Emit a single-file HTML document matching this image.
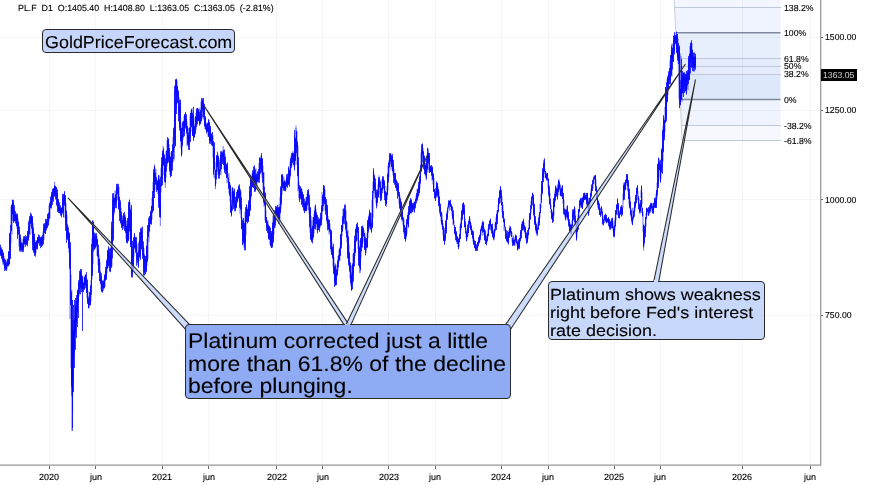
<!DOCTYPE html>
<html><head><meta charset="utf-8">
<style>
html,body{margin:0;padding:0;background:#fff;}
body{text-rendering:geometricPrecision;width:875px;height:484px;overflow:hidden;position:relative;font-family:"Liberation Sans",sans-serif;color:#000;}
svg{position:absolute;left:0;top:0;}
.t{position:absolute;white-space:nowrap;line-height:1;will-change:transform;}
.ax{font-size:8.7px;color:#000;-webkit-text-stroke:0.12px #000;}
.box{position:absolute;box-sizing:border-box;border:1px solid #2a2a2a;border-radius:4px;}
</style></head><body>
<svg width="875" height="484" viewBox="0 0 875 484">
<!-- fib zones -->
<g>
<polygon points="674.2,0 780.5,0 780.5,7.5 674.7,7.5" fill="#f3f6fe"/>
<polygon points="674.7,7.5 780.5,7.5 780.5,32.7 675.8,32.7" fill="#eef3fd"/>
<polygon points="675.8,32.7 780.5,32.7 780.5,58.3 677.5,58.3" fill="#e7eefc"/>
<polygon points="677.5,58.3 780.5,58.3 780.5,66.2 678,66.2" fill="#e4ecfc"/>
<polygon points="678,66.2 780.5,66.2 780.5,74.2 678.6,74.2" fill="#e4ecfc"/>
<polygon points="678.6,74.2 780.5,74.2 780.5,99.6 680.3,99.6" fill="#dee8fb"/>
<polygon points="680.3,99.6 780.5,99.6 780.5,125.3 681.4,125.3" fill="#eef3fd"/>
<polygon points="681.4,125.3 780.5,125.3 780.5,140.5 682,140.5" fill="#f6f8fe"/>
<path d="M674.2 0L675.8 32.7L680.3 99.6L682 140.5" fill="none" stroke="#c8cfdd" stroke-width="1"/>
<g shape-rendering="crispEdges">
<path d="M674.7 7.5H780.5M677.5 58.5H780.5M678 66.5H780.5M678.6 74.5H780.5M681.4 125.5H780.5M682 140.5H780.5" stroke="#bfc7da" stroke-width="1.1"/>
<path d="M675.8 32.7H780.5M680.3 99.6H780.5" stroke="#7f889c" stroke-width="1.5" shape-rendering="auto"/>
</g>
</g>
<!-- grid -->
<g stroke="#f5f5f5" stroke-width="1" shape-rendering="crispEdges" style="mix-blend-mode:multiply">
<path d="M49.5 0V465M95.5 0V465M162.5 0V465M208.5 0V465M276.5 0V465M322.5 0V465M388.5 0V465M435.5 0V465M501.5 0V465M548.5 0V465M614.5 0V465M660.5 0V465M742.5 0V465M810.5 0V465"/>
<path d="M0 37.5H820M0 110.5H820M0 199.5H820M0 315.5H820"/>
</g>
<!-- axes -->
<path d="M0 465.1H821.4M820.7 0V465.8" stroke="#989898" stroke-width="1.25" fill="none"/>
<g stroke="#6a6a6a" stroke-width="1" shape-rendering="crispEdges">
<path d="M821 37.5H823M821 110.5H823M821 199.5H823M821 315.5H823"/>
<path d="M49.5 466V469M95.5 466V469M162.5 466V469M208.5 466V469M276.5 466V469M322.5 466V469M388.5 466V469M435.5 466V469M501.5 466V469M548.5 466V469M614.5 466V469M660.5 466V469M742.5 466V469M810.5 466V469"/>
</g>
<!-- price -->
<path d="M0.0 247.2V254.0M0.5 248.6V254.3M1.0 250.1V256.0M1.5 249.9V256.3M2.0 249.6V258.6M2.5 251.2V259.8M3.0 251.7V265.1M3.5 253.6V262.3M4.0 256.0V265.4M4.5 259.4V268.3M5.0 261.8V266.8M5.5 262.6V267.9M6.0 264.6V268.9M6.5 264.3V269.3M7.0 262.8V269.3M7.5 260.5V265.8M8.0 258.2V265.4M8.5 251.8V265.2M9.0 251.5V264.1M9.5 235.1V264.1M10.0 237.9V250.3M10.5 232.0V257.3M11.0 206.5V243.4M11.5 205.2V229.9M12.0 203.9V234.4M12.5 202.5V213.6M13.0 203.5V215.8M13.5 202.8V220.4M14.0 210.6V221.0M14.5 210.0V220.6M15.0 214.3V220.8M15.5 214.3V221.0M16.0 213.7V220.2M16.5 215.0V225.5M17.0 216.0V228.8M17.5 215.4V234.9M18.0 217.8V231.9M18.5 222.1V233.8M19.0 231.7V246.9M19.5 230.2V244.6M20.0 238.4V247.3M20.5 236.6V248.8M21.0 238.8V249.7M21.5 244.8V249.7M22.0 243.3V249.7M22.5 244.9V249.7M23.0 239.1V248.6M23.5 238.8V249.7M24.0 239.0V247.6M24.5 237.7V243.9M25.0 237.7V244.3M25.5 238.5V244.1M26.0 238.5V243.3M26.5 240.1V243.8M27.0 236.7V243.3M27.5 232.8V243.8M28.0 230.8V238.1M28.5 226.6V240.0M29.0 219.9V237.6M29.5 218.9V233.4M30.0 220.8V234.9M30.5 215.8V223.4M31.0 216.0V227.1M31.5 215.1V222.6M32.0 218.9V233.5M32.5 217.2V244.8M33.0 223.0V239.0M33.5 229.1V251.2M34.0 237.7V250.4M34.5 236.4V252.4M35.0 241.5V254.2M35.5 242.9V253.9M36.0 244.3V253.2M36.5 240.7V247.8M37.0 240.5V248.9M37.5 239.4V247.2M38.0 238.4V245.1M38.5 237.4V242.3M39.0 236.9V241.5M39.5 236.9V242.5M40.0 236.9V242.0M40.5 237.7V244.8M41.0 236.9V244.9M41.5 236.9V245.3M42.0 240.1V245.6M42.5 237.3V244.7M43.0 231.4V244.0M43.5 227.4V239.2M44.0 231.8V239.8M44.5 225.1V232.6M45.0 224.8V229.6M45.5 222.8V233.7M46.0 222.1V230.2M46.5 221.4V227.9M47.0 221.2V225.0M47.5 215.5V226.5M48.0 219.4V226.0M48.5 214.0V223.1M49.0 205.2V221.3M49.5 204.0V216.5M50.0 201.6V218.4M50.5 201.5V206.9M51.0 197.1V209.2M51.5 194.5V206.1M52.0 194.2V199.5M52.5 190.7V200.8M53.0 189.3V197.0M53.5 188.4V198.2M54.0 188.2V194.2M54.5 186.4V194.1M55.0 185.9V193.6M55.5 186.9V197.5M56.0 187.0V194.7M56.5 187.9V199.2M57.0 193.8V206.1M57.5 193.2V206.8M58.0 199.9V210.9M58.5 201.3V211.7M59.0 203.9V211.3M59.5 208.9V212.8M60.0 207.6V213.3M60.5 207.8V212.1M61.0 207.3V214.0M61.5 209.6V214.9M62.0 207.1V214.9M62.5 198.9V211.5M63.0 195.5V209.7M63.5 196.1V213.1M64.0 194.4V201.3M64.5 193.9V200.1M65.0 196.5V218.1M65.5 196.3V225.3M66.0 203.1V221.7M66.5 212.5V238.5M67.0 215.1V235.4M67.5 226.8V238.3M68.0 225.8V240.3M68.5 232.4V245.7M69.0 233.1V252.8M69.5 235.0V266.0M70.0 245.4V319.0M70.5 250.1V299.6M71.0 274.7V368.3M71.5 296.5V384.8M72.0 345.4V396.9M72.5 336.8V395.7M73.0 349.3V389.8M73.5 332.7V357.0M74.0 329.0V348.0M74.5 322.0V346.1M75.0 320.8V337.3M75.5 305.6V326.5M76.0 309.4V321.7M76.5 305.0V321.7M77.0 298.4V313.1M77.5 294.0V311.8M78.0 289.1V303.0M78.5 283.1V300.5M79.0 282.6V296.6M79.5 277.6V288.7M80.0 273.1V283.9M80.5 271.5V287.6M81.0 271.5V284.3M81.5 275.2V289.6M82.0 278.6V287.6M82.5 278.7V289.5M83.0 281.1V289.6M83.5 283.7V289.1M84.0 276.5V289.0M84.5 278.2V289.4M85.0 274.9V285.5M85.5 274.6V282.6M86.0 279.4V288.4M86.5 277.5V292.4M87.0 278.8V298.3M87.5 284.2V301.3M88.0 290.4V304.0M88.5 300.5V308.2M89.0 303.0V308.2M89.5 298.1V305.0M90.0 291.6V306.1M90.5 286.3V303.4M91.0 280.2V301.2M91.5 248.8V288.2M92.0 238.2V279.7M92.5 226.1V273.4M93.0 220.0V264.1M93.5 222.2V246.2M94.0 232.8V246.8M94.5 237.9V249.5M95.0 233.8V247.8M95.5 236.2V246.8M96.0 236.2V245.4M96.5 235.6V243.4M97.0 236.6V255.8M97.5 239.6V255.6M98.0 249.2V265.1M98.5 249.8V267.4M99.0 254.2V272.3M99.5 258.9V275.9M100.0 261.9V281.1M100.5 276.7V283.6M101.0 279.6V289.6M101.5 276.2V290.9M102.0 280.1V288.2M102.5 283.8V290.9M103.0 284.6V290.9M103.5 281.3V288.2M104.0 278.7V287.2M104.5 275.8V287.0M105.0 273.6V286.9M105.5 270.1V280.2M106.0 269.9V279.7M106.5 262.6V277.0M107.0 258.9V273.2M107.5 251.2V268.4M108.0 253.3V267.4M108.5 249.1V264.5M109.0 249.1V268.2M109.5 253.4V265.5M110.0 256.0V266.3M110.5 249.5V270.2M111.0 250.5V265.1M111.5 226.6V267.6M112.0 229.4V266.5M112.5 199.8V250.9M113.0 207.0V219.8M113.5 195.9V238.3M114.0 197.4V214.7M114.5 198.9V209.9M115.0 190.6V205.5M115.5 194.9V203.5M116.0 190.4V198.4M116.5 187.9V203.2M117.0 186.5V199.6M117.5 186.5V192.8M118.0 186.5V200.8M118.5 190.3V207.2M119.0 186.9V209.2M119.5 198.2V212.6M120.0 207.1V216.1M120.5 202.8V222.4M121.0 207.9V224.4M121.5 214.6V227.2M122.0 215.3V226.5M122.5 220.3V227.5M123.0 216.7V227.5M123.5 214.9V226.0M124.0 217.7V224.8M124.5 215.5V223.4M125.0 214.5V231.3M125.5 218.5V231.0M126.0 220.3V238.6M126.5 228.9V242.4M127.0 224.5V242.6M127.5 224.9V241.5M128.0 220.2V240.1M128.5 203.9V240.1M129.0 214.9V230.6M129.5 202.3V227.6M130.0 202.3V238.7M130.5 210.1V245.0M131.0 206.7V244.2M131.5 211.8V273.5M132.0 252.4V274.8M132.5 246.6V272.5M133.0 250.9V261.6M133.5 242.2V269.5M134.0 238.3V256.5M134.5 235.7V247.3M135.0 237.8V248.4M135.5 239.0V249.2M136.0 238.5V250.2M136.5 242.0V259.4M137.0 244.5V252.8M137.5 253.1V260.9M138.0 255.8V265.1M138.5 256.4V265.1M139.0 241.2V261.1M139.5 240.9V256.4M140.0 236.6V257.6M140.5 231.9V254.5M141.0 229.4V236.8M141.5 230.3V245.1M142.0 238.9V248.2M142.5 229.9V256.1M143.0 247.6V255.2M143.5 246.5V271.5M144.0 248.4V265.7M144.5 255.8V271.8M145.0 266.4V272.8M145.5 258.9V270.1M146.0 259.4V271.3M146.5 245.9V269.2M147.0 238.4V265.8M147.5 230.3V260.8M148.0 226.8V259.1M148.5 222.6V235.2M149.0 225.1V242.1M149.5 217.3V231.3M150.0 218.3V227.0M150.5 212.7V223.7M151.0 211.9V224.0M151.5 206.1V221.4M152.0 197.7V219.4M152.5 197.4V212.6M153.0 182.2V208.0M153.5 172.3V209.5M154.0 172.4V191.9M154.5 166.5V192.2M155.0 167.6V190.0M155.5 173.4V182.1M156.0 169.1V183.4M156.5 179.7V185.3M157.0 178.4V189.6M157.5 182.3V189.9M158.0 180.7V190.1M158.5 175.9V201.7M159.0 175.9V192.0M159.5 179.7V211.7M160.0 192.6V212.4M160.5 183.6V216.7M161.0 167.6V192.3M161.5 164.5V185.7M162.0 158.1V184.0M162.5 153.6V179.0M163.0 150.0V165.6M163.5 151.6V164.8M164.0 155.8V175.5M164.5 156.1V177.1M165.0 165.1V182.4M165.5 165.7V182.0M166.0 151.0V177.8M166.5 154.1V165.5M167.0 140.4V166.6M167.5 140.1V162.6M168.0 140.0V153.1M168.5 139.2V159.4M169.0 143.9V162.4M169.5 154.2V168.9M170.0 152.4V174.7M170.5 156.9V174.7M171.0 164.7V174.7M171.5 151.3V171.2M172.0 153.6V165.8M172.5 148.7V163.1M173.0 137.1V162.1M173.5 129.4V151.7M174.0 142.6V160.6M174.5 90.3V143.4M175.0 98.9V140.2M175.5 85.3V145.9M176.0 79.4V92.2M176.5 80.4V108.4M177.0 80.4V103.0M177.5 86.8V96.5M178.0 91.9V103.7M178.5 91.3V114.4M179.0 96.9V110.5M179.5 105.3V127.4M180.0 108.1V127.5M180.5 102.1V140.8M181.0 122.5V148.6M181.5 128.6V153.9M182.0 146.2V153.7M182.5 127.7V144.2M183.0 120.8V139.8M183.5 121.7V131.3M184.0 116.1V130.8M184.5 114.6V132.5M185.0 114.6V119.8M185.5 114.6V126.4M186.0 118.4V129.6M186.5 119.2V130.8M187.0 121.5V146.2M187.5 126.2V142.8M188.0 135.6V145.4M188.5 135.4V147.2M189.0 132.7V142.5M189.5 128.4V145.3M190.0 115.5V141.8M190.5 113.7V134.3M191.0 110.5V131.5M191.5 110.3V126.2M192.0 107.9V124.1M192.5 115.5V135.9M193.0 119.3V134.1M193.5 114.4V138.2M194.0 124.4V137.3M194.5 126.9V136.7M195.0 117.2V132.0M195.5 117.0V129.1M196.0 112.8V130.2M196.5 109.7V124.8M197.0 111.7V125.5M197.5 109.0V119.7M198.0 109.0V121.3M198.5 111.9V120.5M199.0 109.0V119.4M199.5 114.6V124.1M200.0 116.1V124.1M200.5 112.5V122.8M201.0 101.4V121.1M201.5 102.9V118.8M202.0 100.7V111.9M202.5 100.7V108.0M203.0 100.7V119.4M203.5 102.5V116.3M204.0 107.7V119.5M204.5 106.6V124.6M205.0 117.1V129.3M205.5 117.5V127.1M206.0 122.5V129.5M206.5 126.4V131.7M207.0 123.4V131.7M207.5 123.2V130.7M208.0 122.1V136.8M208.5 119.5V136.3M209.0 119.5V125.8M209.5 123.3V141.1M210.0 132.1V141.1M210.5 128.7V141.0M211.0 134.7V141.6M211.5 134.7V140.4M212.0 136.5V146.2M212.5 136.4V145.6M213.0 135.2V157.9M213.5 144.5V173.6M214.0 151.8V177.7M214.5 148.0V167.9M215.0 161.7V178.7M215.5 169.9V184.9M216.0 169.9V183.6M216.5 155.7V172.0M217.0 156.5V174.9M217.5 154.4V165.7M218.0 154.5V163.6M218.5 158.4V173.6M219.0 158.0V175.1M219.5 171.1V176.0M220.0 160.0V174.7M220.5 155.1V167.2M221.0 155.7V175.2M221.5 151.8V166.2M222.0 152.9V159.1M222.5 153.7V161.4M223.0 150.2V157.7M223.5 151.7V163.3M224.0 152.6V168.9M224.5 156.4V170.1M225.0 154.0V170.2M225.5 161.2V171.1M226.0 166.0V171.5M226.5 164.8V177.2M227.0 165.9V183.2M227.5 164.8V176.5M228.0 173.5V182.7M228.5 180.3V186.8M229.0 173.3V193.4M229.5 182.1V194.5M230.0 183.2V201.2M230.5 185.7V210.2M231.0 187.7V212.5M231.5 207.0V213.8M232.0 191.8V211.3M232.5 187.8V204.2M233.0 187.8V198.8M233.5 191.3V201.7M234.0 190.5V206.9M234.5 192.8V206.8M235.0 201.2V208.3M235.5 203.8V208.6M236.0 202.3V208.6M236.5 196.6V206.6M237.0 193.5V201.0M237.5 190.1V200.7M238.0 190.2V200.8M238.5 188.3V197.6M239.0 187.1V198.9M239.5 187.0V201.9M240.0 191.1V213.5M240.5 192.6V208.1M241.0 191.5V218.4M241.5 204.1V228.6M242.0 217.2V230.0M242.5 221.6V242.6M243.0 222.9V240.1M243.5 221.3V241.1M244.0 225.3V247.6M244.5 223.1V245.8M245.0 212.0V244.0M245.5 215.3V242.3M246.0 210.0V235.3M246.5 207.1V221.9M247.0 207.1V217.4M247.5 209.6V220.7M248.0 214.0V220.8M248.5 202.9V220.8M249.0 207.6V217.2M249.5 190.6V215.4M250.0 194.0V208.6M250.5 179.3V209.7M251.0 186.1V198.5M251.5 180.3V188.9M252.0 173.2V180.7M252.5 174.8V187.0M253.0 170.2V186.0M253.5 171.7V184.0M254.0 171.5V186.5M254.5 166.7V188.9M255.0 173.4V185.5M255.5 176.0V190.5M256.0 168.3V188.7M256.5 174.1V182.1M257.0 176.2V189.6M257.5 174.1V181.6M258.0 171.9V180.0M258.5 171.3V179.3M259.0 162.9V179.9M259.5 157.8V178.7M260.0 158.4V174.7M260.5 158.6V168.7M261.0 155.8V159.9M261.5 155.8V169.9M262.0 157.7V177.9M262.5 158.8V174.5M263.0 165.7V189.6M263.5 173.1V200.6M264.0 172.4V206.7M264.5 192.6V204.5M265.0 195.2V220.4M265.5 195.2V222.3M266.0 210.1V221.0M266.5 217.7V227.0M267.0 219.7V226.8M267.5 223.4V230.5M268.0 220.5V230.4M268.5 225.7V238.6M269.0 225.9V238.5M269.5 227.5V238.5M270.0 231.0V244.8M270.5 232.4V244.8M271.0 239.7V247.7M271.5 233.0V247.7M272.0 233.3V245.7M272.5 225.3V245.6M273.0 215.6V242.7M273.5 220.2V239.0M274.0 219.3V234.5M274.5 211.5V225.4M275.0 210.3V228.0M275.5 210.7V220.8M276.0 207.6V217.6M276.5 208.3V214.0M277.0 207.3V212.7M277.5 207.6V215.4M278.0 210.4V220.1M278.5 214.2V220.9M279.0 204.1V219.6M279.5 207.1V220.2M280.0 197.1V220.1M280.5 190.7V212.0M281.0 187.1V209.1M281.5 175.2V202.4M282.0 175.7V195.0M282.5 174.6V182.2M283.0 175.8V191.1M283.5 181.9V187.8M284.0 177.3V186.6M284.5 181.5V189.6M285.0 183.3V190.3M285.5 183.3V190.3M286.0 179.9V190.3M286.5 177.9V184.8M287.0 177.1V186.9M287.5 176.3V185.0M288.0 179.0V185.4M288.5 167.9V184.2M289.0 168.4V179.5M289.5 170.0V183.3M290.0 161.5V179.7M290.5 160.6V175.1M291.0 155.8V168.6M291.5 157.8V165.0M292.0 154.8V165.6M292.5 154.1V159.2M293.0 154.1V160.6M293.5 154.4V162.8M294.0 152.6V167.0M294.5 135.7V167.8M295.0 138.3V164.9M295.5 138.4V159.7M296.0 125.6V146.8M296.5 132.3V147.2M297.0 130.6V164.9M297.5 144.3V175.3M298.0 145.6V191.5M298.5 162.5V186.6M299.0 182.2V198.1M299.5 186.3V199.5M300.0 190.2V198.2M300.5 189.4V195.6M301.0 188.9V199.2M301.5 188.9V199.9M302.0 189.1V203.9M302.5 192.7V204.3M303.0 194.4V207.3M303.5 196.3V206.1M304.0 203.6V210.0M304.5 202.9V211.1M305.0 203.7V211.1M305.5 204.1V211.1M306.0 196.9V210.3M306.5 198.5V209.1M307.0 194.2V209.8M307.5 192.8V199.9M308.0 191.9V197.8M308.5 191.9V198.2M309.0 196.9V213.6M309.5 202.8V221.4M310.0 209.2V232.9M310.5 208.2V239.4M311.0 215.9V238.1M311.5 232.8V240.8M312.0 235.4V240.7M312.5 227.5V239.7M313.0 217.3V239.6M313.5 217.9V237.3M314.0 214.0V233.8M314.5 210.9V227.7M315.0 207.1V222.5M315.5 207.1V224.2M316.0 208.8V227.0M316.5 213.4V223.6M317.0 215.9V230.5M317.5 220.4V230.5M318.0 220.4V228.0M318.5 220.0V227.2M319.0 219.3V229.8M319.5 221.5V227.8M320.0 217.5V228.3M320.5 217.5V225.2M321.0 214.7V221.7M321.5 207.8V223.8M322.0 192.0V219.9M322.5 196.7V210.8M323.0 193.9V211.1M323.5 187.6V201.0M324.0 188.5V197.4M324.5 188.4V202.5M325.0 189.6V210.7M325.5 197.5V209.9M326.0 201.6V210.3M326.5 204.8V219.6M327.0 210.0V223.7M327.5 207.3V223.9M328.0 216.0V227.0M328.5 219.5V229.5M329.0 220.2V234.4M329.5 222.7V230.9M330.0 223.9V233.9M330.5 231.6V242.6M331.0 230.6V252.1M331.5 231.5V254.0M332.0 242.3V252.0M332.5 247.4V258.1M333.0 250.9V266.6M333.5 247.8V269.5M334.0 257.5V272.6M334.5 267.0V281.9M335.0 263.1V281.6M335.5 268.4V285.0M336.0 272.4V285.0M336.5 269.6V280.0M337.0 264.7V275.7M337.5 262.5V274.8M338.0 256.0V270.7M338.5 257.5V263.9M339.0 249.6V261.6M339.5 249.1V258.6M340.0 246.4V260.7M340.5 234.7V254.8M341.0 238.4V246.9M341.5 225.8V245.1M342.0 224.9V236.3M342.5 218.2V231.3M343.0 208.5V228.4M343.5 213.0V221.3M344.0 208.7V223.4M344.5 206.9V216.6M345.0 210.4V224.9M345.5 210.8V227.8M346.0 210.1V232.9M346.5 222.6V236.3M347.0 222.2V242.7M347.5 235.9V254.1M348.0 230.0V257.1M348.5 237.6V261.3M349.0 244.4V263.8M349.5 253.7V269.7M350.0 262.2V278.4M350.5 265.0V279.2M351.0 272.4V286.2M351.5 276.1V289.6M352.0 272.5V289.1M352.5 264.7V283.1M353.0 253.8V278.2M353.5 255.3V274.6M354.0 248.8V266.6M354.5 240.5V259.7M355.0 240.9V256.1M355.5 229.0V252.5M356.0 226.9V242.6M356.5 229.4V240.0M357.0 224.4V230.9M357.5 226.2V232.3M358.0 227.1V249.2M358.5 231.4V260.1M359.0 240.2V255.9M359.5 247.5V266.9M360.0 255.8V272.8M360.5 240.2V268.1M361.0 238.4V258.2M361.5 230.0V247.2M362.0 227.4V244.3M362.5 228.1V243.6M363.0 227.4V231.4M363.5 230.1V236.2M364.0 230.0V241.5M364.5 236.7V247.7M365.0 234.1V249.3M365.5 238.9V253.1M366.0 246.2V253.2M366.5 239.9V246.6M367.0 233.2V248.2M367.5 220.3V247.3M368.0 223.0V238.0M368.5 218.3V228.1M369.0 214.1V230.1M369.5 211.5V225.1M370.0 212.2V223.4M370.5 214.5V228.8M371.0 219.8V226.3M371.5 222.9V231.8M372.0 199.8V226.3M372.5 196.1V226.7M373.0 182.5V217.6M373.5 170.5V187.4M374.0 173.5V198.8M374.5 177.1V189.2M375.0 184.7V194.5M375.5 183.2V197.6M376.0 195.2V203.2M376.5 191.8V205.4M377.0 199.9V206.3M377.5 191.7V201.9M378.0 184.3V194.1M378.5 179.4V195.8M379.0 179.4V185.3M379.5 180.5V187.1M380.0 186.7V193.9M380.5 185.3V197.2M381.0 191.9V199.0M381.5 188.1V198.2M382.0 179.5V193.8M382.5 178.6V187.1M383.0 178.4V184.3M383.5 178.8V185.8M384.0 179.8V189.5M384.5 182.7V193.6M385.0 185.9V195.9M385.5 191.5V203.4M386.0 191.8V203.3M386.5 193.9V203.9M387.0 186.1V199.9M387.5 175.0V194.5M388.0 165.9V190.3M388.5 162.6V180.4M389.0 160.4V176.9M389.5 156.3V165.4M390.0 153.8V165.0M390.5 153.6V161.1M391.0 153.2V163.4M391.5 157.4V166.8M392.0 157.7V164.5M392.5 156.9V170.9M393.0 163.2V175.3M393.5 163.9V176.7M394.0 168.7V175.2M394.5 174.3V182.5M395.0 172.8V183.4M395.5 175.4V182.7M396.0 181.2V186.5M396.5 180.8V188.1M397.0 183.4V189.4M397.5 184.0V193.8M398.0 185.8V193.7M398.5 185.5V194.6M399.0 193.8V203.4M399.5 194.0V207.1M400.0 196.2V203.9M400.5 200.4V214.3M401.0 202.8V213.2M401.5 203.7V217.3M402.0 211.6V221.6M402.5 211.5V219.9M403.0 217.9V225.4M403.5 220.5V227.4M404.0 219.4V234.4M404.5 226.6V233.5M405.0 233.5V238.5M405.5 230.6V240.2M406.0 225.8V239.6M406.5 221.5V235.9M407.0 219.1V233.5M407.5 216.8V223.4M408.0 212.4V227.2M408.5 211.7V225.7M409.0 209.3V219.7M409.5 202.9V214.4M410.0 201.7V214.2M410.5 200.1V212.4M411.0 199.7V202.4M411.5 202.1V211.5M412.0 202.9V207.9M412.5 205.5V212.0M413.0 205.8V212.0M413.5 204.9V209.4M414.0 201.5V209.6M414.5 202.6V210.6M415.0 200.7V206.1M415.5 199.4V205.3M416.0 195.5V200.9M416.5 195.0V200.2M417.0 189.4V200.9M417.5 193.2V198.4M418.0 189.7V197.8M418.5 185.6V193.4M419.0 184.5V195.2M419.5 178.5V192.4M420.0 174.7V188.4M420.5 170.4V181.7M421.0 152.6V171.4M421.5 150.1V170.9M422.0 149.9V165.0M422.5 145.3V152.8M423.0 147.8V157.8M423.5 152.1V165.4M424.0 155.7V165.3M424.5 158.0V170.8M425.0 159.9V173.1M425.5 165.9V175.2M426.0 163.1V177.2M426.5 163.5V175.8M427.0 154.9V172.3M427.5 152.5V168.4M428.0 148.8V162.5M428.5 153.0V160.2M429.0 158.1V169.7M429.5 154.7V170.6M430.0 167.3V171.9M430.5 166.2V171.5M431.0 167.0V170.4M431.5 166.7V173.6M432.0 166.8V180.7M432.5 167.9V178.4M433.0 174.2V184.5M433.5 174.4V191.6M434.0 178.2V190.5M434.5 190.2V195.4M435.0 191.2V197.9M435.5 193.3V199.5M436.0 190.0V197.4M436.5 185.2V192.9M437.0 183.0V194.1M437.5 184.1V195.1M438.0 186.5V195.3M438.5 190.0V203.7M439.0 191.4V204.6M439.5 196.7V208.3M440.0 205.2V214.9M440.5 207.4V216.2M441.0 213.7V221.7M441.5 213.0V223.4M442.0 213.3V226.4M442.5 222.3V228.3M443.0 223.5V235.1M443.5 227.4V239.8M444.0 230.1V240.3M444.5 238.2V243.8M445.0 230.9V238.8M445.5 223.8V238.3M446.0 219.6V231.6M446.5 214.4V229.5M447.0 211.0V219.7M447.5 209.9V217.3M448.0 204.8V213.0M448.5 202.6V206.6M449.0 202.5V208.8M449.5 201.6V204.5M450.0 201.1V204.0M450.5 202.2V206.1M451.0 203.7V210.0M451.5 205.6V210.1M452.0 207.1V215.7M452.5 210.3V217.8M453.0 212.7V225.3M453.5 214.7V222.6M454.0 220.6V225.4M454.5 226.5V233.5M455.0 227.4V235.2M455.5 228.7V236.2M456.0 232.6V236.9M456.5 232.5V241.4M457.0 236.4V243.9M457.5 237.1V242.8M458.0 241.8V247.0M458.5 240.6V247.7M459.0 238.1V246.9M459.5 235.0V242.1M460.0 225.6V237.9M460.5 223.9V234.5M461.0 217.5V230.4M461.5 211.9V223.8M462.0 209.8V220.9M462.5 207.2V217.8M463.0 205.2V212.3M463.5 203.6V213.9M464.0 209.5V213.6M464.5 209.1V226.9M465.0 218.3V226.9M465.5 224.5V230.3M466.0 228.1V237.4M466.5 237.1V241.0M467.0 234.1V239.4M467.5 228.5V237.0M468.0 229.7V236.3M468.5 224.2V232.7M469.0 219.3V223.8M469.5 217.3V223.5M470.0 218.7V224.9M470.5 222.0V229.0M471.0 223.2V231.2M471.5 226.7V233.8M472.0 229.1V233.6M472.5 230.5V237.2M473.0 231.9V241.9M473.5 234.8V243.8M474.0 238.2V243.8M474.5 242.6V246.9M475.0 241.3V248.5M475.5 243.8V249.7M476.0 245.5V249.2M476.5 246.4V249.4M477.0 244.0V247.9M477.5 243.3V247.8M478.0 241.7V247.4M478.5 240.5V245.4M479.0 239.1V243.0M479.5 235.6V241.6M480.0 233.9V241.5M480.5 229.7V237.2M481.0 227.3V235.4M481.5 225.9V230.2M482.0 223.1V229.1M482.5 223.2V228.8M483.0 222.4V225.0M483.5 223.5V230.6M484.0 227.0V234.6M484.5 230.1V239.6M485.0 232.5V240.2M485.5 234.8V240.9M486.0 240.2V244.1M486.5 239.4V244.0M487.0 236.3V241.7M487.5 233.9V239.8M488.0 228.5V237.5M488.5 228.4V235.7M489.0 224.2V229.5M489.5 222.9V227.4M490.0 219.8V226.8M490.5 219.2V225.1M491.0 224.1V228.9M491.5 224.9V229.6M492.0 224.8V233.1M492.5 227.1V235.9M493.0 229.5V236.4M493.5 236.1V239.1M494.0 230.5V239.8M494.5 230.1V236.7M495.0 224.0V232.8M495.5 222.4V228.2M496.0 217.3V227.3M496.5 215.2V224.9M497.0 210.6V220.5M497.5 210.4V219.1M498.0 205.2V213.2M498.5 199.0V210.5M499.0 198.6V205.6M499.5 190.9V202.6M500.0 189.5V196.5M500.5 187.4V197.2M501.0 192.8V197.2M501.5 195.0V205.2M502.0 196.2V212.2M502.5 206.8V214.9M503.0 204.8V218.4M503.5 212.5V221.5M504.0 218.5V230.6M504.5 220.5V226.9M505.0 226.3V231.5M505.5 228.5V238.4M506.0 232.5V239.5M506.5 234.0V240.2M507.0 237.3V242.4M507.5 235.6V241.8M508.0 236.1V243.2M508.5 232.4V242.0M509.0 230.0V235.4M509.5 228.2V236.5M510.0 228.4V234.8M510.5 227.7V232.7M511.0 228.0V236.4M511.5 232.1V236.4M512.0 232.3V241.8M512.5 239.2V242.6M513.0 240.5V244.2M513.5 240.3V244.5M514.0 238.2V244.3M514.5 240.2V244.0M515.0 236.8V242.4M515.5 235.8V240.1M516.0 235.8V242.3M516.5 237.8V242.5M517.0 239.3V243.7M517.5 242.2V248.9M518.0 243.8V249.9M518.5 242.0V248.6M519.0 239.4V247.5M519.5 238.1V246.0M520.0 235.1V242.7M520.5 231.4V239.4M521.0 231.9V238.9M521.5 227.3V233.9M522.0 222.0V230.9M522.5 221.5V229.7M523.0 220.9V224.8M523.5 220.4V226.0M524.0 222.6V227.2M524.5 226.7V230.6M525.0 226.5V234.2M525.5 228.8V237.4M526.0 234.4V239.5M526.5 233.7V241.2M527.0 237.6V242.6M527.5 233.9V241.4M528.0 232.4V238.9M528.5 228.9V234.7M529.0 219.9V230.1M529.5 214.9V228.6M530.0 213.2V219.9M530.5 209.1V218.2M531.0 200.7V213.7M531.5 198.0V207.8M532.0 196.1V206.3M532.5 193.2V198.0M533.0 196.4V204.4M533.5 197.8V212.4M534.0 203.9V216.5M534.5 207.7V224.2M535.0 216.5V223.7M535.5 220.1V229.0M536.0 222.4V232.8M536.5 224.3V233.0M537.0 232.9V235.4M537.5 230.2V233.8M538.0 221.6V229.4M538.5 221.7V229.7M539.0 214.9V225.9M539.5 212.2V222.1M540.0 203.3V218.3M540.5 205.6V212.8M541.0 193.6V208.0M541.5 185.0V199.4M542.0 184.5V195.6M542.5 172.6V192.8M543.0 168.6V179.7M543.5 163.7V177.3M544.0 159.7V165.5M544.5 162.0V171.4M545.0 169.1V174.2M545.5 171.3V177.7M546.0 172.5V177.4M546.5 174.1V178.8M547.0 174.0V178.6M547.5 174.7V179.8M548.0 178.7V187.7M548.5 179.5V191.2M549.0 184.7V197.4M549.5 190.8V202.1M550.0 192.9V203.4M550.5 202.3V207.5M551.0 204.8V213.1M551.5 209.4V217.8M552.0 210.0V219.2M552.5 215.1V221.5M553.0 212.7V217.4M553.5 202.1V216.7M554.0 197.8V215.5M554.5 196.9V206.6M555.0 190.8V202.5M555.5 187.4V200.4M556.0 187.5V190.2M556.5 189.4V195.3M557.0 190.0V196.6M557.5 188.8V198.0M558.0 183.6V192.4M558.5 182.9V191.6M559.0 178.9V189.0M559.5 182.4V189.2M560.0 184.0V190.4M560.5 189.7V195.4M561.0 191.4V195.7M561.5 189.3V193.2M562.0 186.9V191.4M562.5 187.7V198.1M563.0 193.8V204.0M563.5 197.9V209.5M564.0 199.6V211.8M564.5 209.8V214.8M565.0 210.1V217.9M565.5 212.6V218.8M566.0 215.0V218.0M566.5 210.3V215.7M567.0 206.8V212.4M567.5 208.1V218.2M568.0 212.5V220.0M568.5 215.5V222.6M569.0 221.9V226.9M569.5 222.3V230.5M570.0 222.4V231.0M570.5 225.8V232.0M571.0 224.3V234.5M571.5 225.5V229.8M572.0 220.1V228.3M572.5 213.6V224.3M573.0 212.2V217.5M573.5 210.8V218.8M574.0 210.5V213.3M574.5 207.6V218.7M575.0 209.9V225.9M575.5 218.6V223.7M576.0 221.3V234.7M576.5 229.7V239.3M577.0 227.7V237.4M577.5 222.3V231.2M578.0 214.7V225.7M578.5 209.3V226.0M579.0 209.2V222.4M579.5 203.7V211.5M580.0 201.5V204.6M580.5 198.8V205.3M581.0 200.4V204.5M581.5 202.0V206.9M582.0 205.2V208.3M582.5 199.0V208.2M583.0 198.0V204.7M583.5 195.1V202.2M584.0 193.0V200.2M584.5 193.0V199.8M585.0 196.3V199.3M585.5 196.3V199.2M586.0 195.5V198.7M586.5 195.0V201.3M587.0 194.7V206.2M587.5 194.3V204.7M588.0 201.8V207.9M588.5 206.1V214.8M589.0 206.4V213.0M589.5 199.4V209.4M590.0 198.5V208.4M590.5 194.2V201.5M591.0 188.6V197.8M591.5 187.5V194.8M592.0 184.6V190.7M592.5 183.4V188.3M593.0 181.0V188.6M593.5 178.3V183.0M594.0 176.1V180.0M594.5 175.8V178.7M595.0 175.8V184.6M595.5 175.8V186.8M596.0 179.4V191.1M596.5 188.0V198.2M597.0 190.2V199.0M597.5 194.9V203.8M598.0 199.7V207.9M598.5 202.1V208.3M599.0 202.5V209.5M599.5 208.2V213.8M600.0 209.1V214.8M600.5 212.5V215.6M601.0 207.4V211.4M601.5 207.4V210.6M602.0 209.1V214.9M602.5 215.1V221.3M603.0 221.6V224.5M603.5 219.6V224.2M604.0 217.9V223.1M604.5 216.0V219.6M605.0 215.3V218.9M605.5 215.1V219.5M606.0 217.9V222.0M606.5 217.4V221.3M607.0 218.2V221.8M607.5 219.2V222.0M608.0 218.2V221.0M608.5 218.2V222.9M609.0 219.5V223.3M609.5 220.8V227.0M610.0 221.4V227.6M610.5 224.3V228.5M611.0 223.1V228.5M611.5 219.9V224.2M612.0 220.7V227.9M612.5 218.8V226.8M613.0 222.7V230.7M613.5 228.5V234.9M614.0 227.1V237.5M614.5 226.3V235.0M615.0 217.8V230.7M615.5 213.0V225.8M616.0 210.0V220.6M616.5 204.8V214.3M617.0 204.3V209.2M617.5 199.7V207.4M618.0 203.4V210.0M618.5 205.0V214.7M619.0 211.1V217.1M619.5 214.5V217.5M620.0 212.2V215.6M620.5 209.0V214.1M621.0 208.1V212.2M621.5 205.9V213.9M622.0 205.5V214.1M622.5 207.5V214.2M623.0 193.6V207.7M623.5 186.1V199.7M624.0 183.7V197.7M624.5 185.6V195.0M625.0 184.3V190.0M625.5 180.8V187.7M626.0 179.4V185.6M626.5 178.2V181.4M627.0 176.1V182.9M627.5 175.3V185.3M628.0 179.9V191.9M628.5 183.0V198.8M629.0 188.5V204.7M629.5 192.2V207.0M630.0 196.6V209.3M630.5 202.4V214.1M631.0 208.9V217.6M631.5 213.9V220.2M632.0 216.9V223.5M632.5 218.6V224.4M633.0 215.8V220.6M633.5 211.0V217.9M634.0 207.3V212.6M634.5 203.2V212.6M635.0 201.3V210.8M635.5 197.9V205.9M636.0 195.0V202.6M636.5 191.0V200.0M637.0 187.0V192.2M637.5 186.5V192.3M638.0 191.2V196.4M638.5 196.8V204.5M639.0 197.7V209.9M639.5 204.5V211.3M640.0 206.2V214.2M640.5 203.2V210.7M641.0 190.2V198.0M641.5 186.5V207.1M642.0 192.5V204.3M642.5 208.0V215.8M643.0 211.8V231.9M643.5 224.9V245.4M644.0 231.1V246.1M644.5 228.8V240.5M645.0 223.3V231.3M645.5 217.3V232.9M646.0 213.4V226.5M646.5 211.7V216.9M647.0 208.7V212.0M647.5 208.8V211.3M648.0 210.7V214.4M648.5 211.3V215.2M649.0 210.8V214.6M649.5 208.0V212.3M650.0 205.6V211.8M650.5 205.1V209.0M651.0 202.9V205.8M651.5 203.6V208.3M652.0 205.9V210.7M652.5 208.3V212.7M653.0 205.5V212.9M653.5 203.9V211.4M654.0 203.2V208.7M654.5 198.6V204.7M655.0 201.6V205.5M655.5 201.3V206.6M656.0 193.7V206.2M656.5 190.4V204.4M657.0 182.5V199.4M657.5 166.0V191.5M658.0 163.5V185.8M658.5 159.2V183.8M659.0 158.4V166.1M659.5 163.4V169.9M660.0 167.8V177.5M660.5 163.6V180.4M661.0 164.9V179.1M661.5 149.7V171.8M662.0 147.4V160.8M662.5 132.1V167.2M663.0 125.7V161.8M663.5 118.0V150.7M664.0 117.5V137.6M664.5 120.5V135.6M665.0 106.8V131.6M665.5 87.4V122.4M666.0 88.4V115.1M666.5 89.8V118.4M667.0 79.3V102.7M667.5 77.3V101.5M668.0 74.9V95.0M668.5 74.9V87.8M669.0 77.3V84.3M669.5 70.6V79.5M670.0 60.3V80.6M670.5 56.2V80.1M671.0 66.1V77.0M671.5 49.2V74.2M672.0 43.3V76.7M672.5 50.4V61.9M673.0 43.7V53.5M673.5 39.6V61.6M674.0 35.5V52.2M674.5 35.5V50.8M675.0 35.5V45.4M675.5 35.5V43.1M676.0 35.5V43.3M676.5 35.8V49.2M677.0 37.6V53.2M677.5 35.8V56.8M678.0 38.5V57.4M678.5 48.6V62.0M679.0 46.9V99.0M679.5 47.6V103.8M680.0 53.0V88.3M680.5 89.4V104.4M681.0 55.8V99.4M681.5 65.6V99.4M682.0 86.9V101.9M682.5 74.9V93.2M683.0 75.6V91.1M683.5 72.7V93.2M684.0 72.7V86.0M684.5 74.0V91.3M685.0 77.6V87.3M685.5 76.7V88.5M686.0 74.8V91.4M686.5 74.3V91.4M687.0 74.3V88.8M687.5 72.2V82.3M688.0 72.5V90.2M688.5 59.0V81.2M689.0 64.2V75.3M689.5 53.9V79.6M690.0 46.2V66.9M690.5 44.9V62.8M691.0 43.1V62.4M691.5 43.9V67.1M692.0 43.1V61.4M692.5 50.6V67.4M693.0 53.8V67.7M693.5 56.5V67.7M694.0 57.4V67.7M694.5 58.6V67.0M695.0 56.3V67.3M695.5 56.3V66.5M5.9 269.5V258.7M12.4 199.6V221.0M14.0 221.0V215.7M16.0 215.7V221.0M21.0 250.6V242.6M31.5 217.0V226.5M35.0 254.7V240.0M37.6 237.0V242.6M40.3 242.6V240.0M54.6 182.0V197.0M61.3 213.0V207.6M64.5 191.5V205.0M67.7 237.2V234.5M69.4 234.5V237.2M72.2 431.0V386.0M80.7 271.0V288.0M82.2 288.0V275.5M85.5 275.5V288.0M88.8 308.0V296.0M93.0 224.0V247.0M94.2 247.0V240.0M96.5 240.0V247.0M103.1 291.0V280.0M108.8 246.4V261.0M110.4 271.0V256.0M113.6 199.0V205.0M115.0 205.0V199.0M123.0 229.0V215.7M125.0 215.7V229.0M126.9 240.0V221.0M129.5 204.0V205.0M131.8 277.0V251.0M134.4 234.5V243.0M138.4 267.0V243.0M141.0 232.0V250.6M145.0 268.0V256.0M154.4 164.4V178.0M157.9 194.0V182.8M158.9 174.8V194.0M160.3 226.0V203.0M163.2 146.0V160.4M165.3 188.0V162.0M168.5 139.6V152.4M170.7 176.4V162.0M173.3 147.6V158.8M174.1 158.8V147.6M176.0 79.6V92.6M181.5 155.5V127.8M184.8 115.3V127.8M188.6 143.0V127.8M191.9 110.2V127.8M193.6 137.9V120.3M197.9 107.7V120.3M199.9 122.8V107.7M202.4 100.2V117.8M206.7 130.3V127.8M209.2 127.8V130.3M209.6 141.2V138.0M212.0 138.0V141.2M215.4 189.0V174.8M217.6 157.2V171.6M219.2 174.8V162.0M223.2 146.0V155.6M225.3 170.0V165.2M226.4 165.2V170.0M231.4 215.3V200.4M232.8 189.2V200.2M235.7 207.7V200.2M239.4 189.4V195.1M244.0 244.2V232.9M246.5 205.2V220.3M248.3 220.3V205.2M252.0 176.0V183.0M253.0 183.0V176.0M254.5 171.0V183.0M255.3 192.0V177.0M256.6 177.0V181.0M257.5 181.0V177.0M261.3 155.5V171.0M271.2 245.4V232.9M276.7 207.7V215.3M278.5 220.3V207.7M282.5 176.0V188.0M284.6 188.0V181.0M287.2 181.0V185.0M288.5 185.0V181.0M292.9 151.0V161.0M294.7 166.0V151.0M296.0 128.0V156.0M299.3 200.0V187.6M301.1 187.6V200.0M305.6 210.2V202.7M308.6 191.0V210.2M311.9 240.4V220.3M315.2 205.2V220.3M319.4 227.8V225.3M323.7 185.5V202.7M335.7 285.0V265.5M344.6 211.0V224.0M351.4 290.0V265.5M357.2 225.3V240.4M359.9 273.0V245.4M362.7 225.3V243.0M366.0 250.5V243.0M369.5 213.0V227.8M371.7 230.3V213.0M373.4 171.5V192.9M377.0 203.0V192.9M379.0 175.3V198.0M380.7 198.0V180.3M382.7 180.3V193.0M386.3 207.0V193.0M391.0 155.1V170.2M405.9 238.1V228.0M410.9 197.9V208.0M412.9 208.0V202.9M422.5 144.6V162.7M426.2 180.3V162.7M428.0 148.9V172.7M430.0 172.7V167.7M432.0 167.7V172.7M435.5 197.9V187.8M436.8 182.8V197.9M444.4 241.9V228.0M449.6 200.4V210.5M458.7 246.9V238.1M463.5 202.9V213.0M466.5 240.6V230.6M469.5 218.0V228.0M475.3 248.2V245.7M482.8 220.5V235.6M486.6 243.2V235.6M490.4 220.5V230.6M493.9 240.6V230.6M500.4 187.8V202.9M508.0 243.2V235.6M509.7 225.5V235.6M513.5 245.7V235.6M516.0 235.6V245.7M518.0 248.2V240.6M523.6 220.5V230.6M527.3 240.6V235.6M532.6 192.9V205.4M537.1 236.0V225.5M543.9 160.2V177.8M545.7 177.8V172.7M547.4 172.7V177.8M552.6 220.5V212.0M555.8 185.3V196.5M557.6 196.5V185.3M558.9 181.0V195.3M560.7 195.3V185.3M562.2 185.3V195.3M565.7 220.5V210.4M567.2 205.4V220.5M571.0 233.0V225.5M574.8 207.9V215.4M576.5 239.3V223.0M580.3 197.8V207.9M582.0 207.9V197.8M584.1 192.8V200.3M585.8 200.3V192.8M587.3 192.8V200.3M588.6 215.4V197.8M595.4 174.7V180.2M600.4 215.4V207.9M601.7 207.9V215.4M602.9 225.5V215.4M604.9 215.4V223.0M606.7 223.0V218.0M608.5 218.0V223.0M610.5 228.0V220.5M612.5 220.5V228.0M614.2 236.8V220.5M617.5 200.3V215.4M619.3 218.0V210.4M621.0 210.4V212.9M622.5 212.9V210.4M623.8 182.7V190.3M625.5 190.3V182.7M627.3 175.2V190.3M632.3 224.2V207.9M637.4 186.5V200.3M640.1 212.9V202.9M641.6 187.8V212.9M643.7 250.6V225.5M646.9 207.9V215.4M648.7 215.4V207.9M650.7 202.9V212.9M652.7 212.9V202.9M654.5 200.3V207.9M655.7 207.9V200.3M659.0 160.1V165.1M660.3 181.5V165.1M671.6 52.0V58.0M672.4 58.0V52.0M676.0 34.6V40.0M680.5 101.5V80.0M681.4 80.0V87.0M682.4 87.0V80.0M683.9 76.0V82.9M686.2 93.4V82.9M691.0 46.0V56.6M693.6 65.4V56.6M695.0 56.6V65.4M72.2 431V300M71.8 395V290M72.6 412V320" stroke="#0000ff" stroke-width="0.7" fill="none" opacity="0.8"/>
<path d="M0.5 244.7V255.7M1.5 247.4V258.6M2.5 249.5V261.7M3.5 252.8V263.7M4.5 258.5V270.9M5.5 260.0V270.4M6.5 261.7V271.0M7.5 259.1V266.7M8.5 251.2V266.3M9.5 232.8V264.6M10.5 225.0V259.0M11.5 205.0V231.2M12.5 199.9V214.3M13.5 199.9V223.1M14.5 205.2V221.6M15.5 211.2V223.6M16.5 213.4V226.2M17.5 213.8V238.8M18.5 221.5V234.6M19.5 226.5V251.3M20.5 234.6V251.6M21.5 242.3V251.7M22.5 242.7V252.3M23.5 236.3V251.8M24.5 236.1V244.5M25.5 235.2V246.7M26.5 236.2V245.2M27.5 231.0V246.3M28.5 221.8V240.7M29.5 216.1V234.2M30.5 212.6V223.9M31.5 213.9V228.7M32.5 216.0V250.3M33.5 227.3V252.7M34.5 233.6V255.9M35.5 242.2V256.7M36.5 240.6V249.2M37.5 237.1V249.4M38.5 234.4V243.2M39.5 235.2V245.8M40.5 237.4V248.2M41.5 236.4V247.1M42.5 234.8V245.8M43.5 223.7V244.2M44.5 223.1V233.0M45.5 218.9V234.1M46.5 218.9V230.4M47.5 213.8V228.1M48.5 212.5V225.4M49.5 203.2V218.8M50.5 196.5V208.1M51.5 191.9V207.9M52.5 188.8V205.0M53.5 188.1V201.8M54.5 185.4V196.0M55.5 185.9V199.6M56.5 187.1V205.4M57.5 189.4V211.9M58.5 199.0V213.0M59.5 202.3V213.2M60.5 205.2V215.7M61.5 208.0V217.4M62.5 193.8V213.5M63.5 194.0V217.4M64.5 191.3V205.7M65.5 195.1V230.8M66.5 210.5V242.8M67.5 224.3V239.7M68.5 227.7V248.5M69.5 232.5V268.7M70.5 242.1V305.0M71.5 291.7V387.1M72.5 329.8V396.9M73.5 332.6V359.4M74.5 317.9V348.2M75.5 305.3V333.6M76.5 301.0V322.6M77.5 291.6V312.0M78.5 280.3V301.0M79.5 270.8V293.9M80.5 269.0V294.4M81.5 269.0V292.1M82.5 276.1V291.3M83.5 282.7V292.1M84.5 277.0V289.8M85.5 274.5V285.4M86.5 272.1V293.1M87.5 279.9V303.8M88.5 297.8V308.2M89.5 292.1V305.1M90.5 285.4V305.1M91.5 243.9V294.7M92.5 220.6V275.7M93.5 221.9V251.6M94.5 232.6V249.7M95.5 233.4V248.4M96.5 233.1V245.3M97.5 239.3V256.7M98.5 244.7V272.9M99.5 258.6V281.3M100.5 271.4V283.8M101.5 273.3V291.9M102.5 281.1V292.8M103.5 280.8V288.5M104.5 274.7V288.4M105.5 266.8V280.6M106.5 260.4V279.7M107.5 249.9V268.7M108.5 246.7V266.0M109.5 248.7V271.6M110.5 247.7V272.2M111.5 221.6V267.6M112.5 193.3V258.4M113.5 193.2V240.7M114.5 197.7V212.3M115.5 194.3V208.2M116.5 183.8V208.2M117.5 183.8V194.2M118.5 183.8V209.6M119.5 196.7V221.0M120.5 200.4V223.2M121.5 211.9V227.9M122.5 220.2V230.2M123.5 213.0V226.1M124.5 211.8V230.7M125.5 217.2V232.8M126.5 226.2V242.8M127.5 218.0V243.5M128.5 201.8V241.2M129.5 199.6V231.6M130.5 209.2V247.1M131.5 204.9V277.5M132.5 240.8V277.5M133.5 237.3V269.9M134.5 233.2V248.3M135.5 236.9V252.9M136.5 237.1V265.8M137.5 252.4V262.6M138.5 250.3V267.8M139.5 232.1V257.3M140.5 228.2V259.9M141.5 227.4V249.2M142.5 226.7V258.8M143.5 241.5V275.5M144.5 254.5V275.5M145.5 256.0V274.4M146.5 245.7V272.2M147.5 225.0V261.8M148.5 217.7V237.1M149.5 216.0V231.5M150.5 210.9V223.9M151.5 205.9V224.7M152.5 191.1V212.7M153.5 169.4V211.0M154.5 165.8V198.0M155.5 172.7V184.6M156.5 177.1V192.0M157.5 180.6V190.2M158.5 175.0V207.7M159.5 179.4V217.2M160.5 176.8V217.7M161.5 157.3V186.3M162.5 151.0V185.4M163.5 148.1V165.6M164.5 154.3V181.7M165.5 158.3V182.6M166.5 150.5V171.5M167.5 137.1V163.6M168.5 138.4V162.4M169.5 148.0V171.5M170.5 156.7V177.4M171.5 151.1V176.0M172.5 144.3V170.7M173.5 127.7V151.9M174.5 85.8V148.0M175.5 79.4V146.2M176.5 78.7V114.0M177.5 85.8V102.7M178.5 90.4V121.5M179.5 99.7V130.6M180.5 99.6V141.6M181.5 127.8V156.4M182.5 122.3V146.2M183.5 120.9V137.3M184.5 114.1V136.2M185.5 112.0V128.2M186.5 114.3V133.6M187.5 126.0V144.7M188.5 132.8V149.9M189.5 127.7V149.9M190.5 113.0V141.8M191.5 109.0V126.9M192.5 112.9V136.0M193.5 106.8V140.9M194.5 125.9V137.5M195.5 116.2V134.1M196.5 108.4V127.2M197.5 108.0V123.9M198.5 109.4V121.2M199.5 112.0V125.6M200.5 110.1V124.2M201.5 98.0V121.4M202.5 98.3V110.3M203.5 98.0V117.0M204.5 103.8V126.5M205.5 116.3V129.5M206.5 123.9V133.5M207.5 123.2V132.0M208.5 119.5V136.9M209.5 122.1V143.8M210.5 125.9V143.8M211.5 133.2V145.1M212.5 132.0V145.9M213.5 141.1V174.7M214.5 142.3V169.7M215.5 169.8V186.1M216.5 155.1V179.3M217.5 151.7V167.2M218.5 156.1V178.7M219.5 168.9V178.7M220.5 151.4V171.2M221.5 151.1V168.9M222.5 152.3V164.1M223.5 150.4V165.0M224.5 149.5V172.9M225.5 156.7V174.2M226.5 163.7V178.0M227.5 162.4V178.6M228.5 177.7V188.7M229.5 181.9V195.6M230.5 185.3V212.8M231.5 205.3V216.5M232.5 187.3V210.5M233.5 191.2V208.9M234.5 188.5V211.3M235.5 196.8V211.3M236.5 191.8V207.9M237.5 189.5V202.5M238.5 185.5V198.3M239.5 184.3V207.8M240.5 189.3V209.7M241.5 197.4V228.9M242.5 219.6V245.2M243.5 217.9V243.1M244.5 222.6V250.3M245.5 207.2V250.3M246.5 204.4V221.9M247.5 208.9V223.5M248.5 200.3V222.0M249.5 186.3V216.0M250.5 175.1V210.9M251.5 179.2V196.1M252.5 170.5V187.3M253.5 166.6V188.1M254.5 165.3V191.9M255.5 169.4V190.6M256.5 173.6V184.9M257.5 171.4V182.1M258.5 169.1V182.7M259.5 157.5V182.6M260.5 158.4V173.7M261.5 153.1V172.5M262.5 158.5V182.6M263.5 172.3V202.5M264.5 186.7V205.4M265.5 192.6V222.9M266.5 217.0V230.9M267.5 221.2V233.2M268.5 224.6V239.4M269.5 225.9V240.0M270.5 227.5V246.0M271.5 231.0V247.9M272.5 222.5V247.6M273.5 212.9V242.5M274.5 210.4V228.0M275.5 205.8V225.6M276.5 206.3V215.9M277.5 205.1V218.2M278.5 207.2V223.6M279.5 206.6V223.6M280.5 186.4V213.4M281.5 174.4V204.7M282.5 174.3V187.8M283.5 181.4V190.5M284.5 180.6V191.0M285.5 181.6V191.4M286.5 174.4V186.7M287.5 173.6V187.8M288.5 166.4V184.4M289.5 169.9V186.8M290.5 158.2V176.4M291.5 152.9V167.8M292.5 152.7V163.2M293.5 153.4V164.8M294.5 130.1V170.5M295.5 138.0V161.0M296.5 131.5V153.1M297.5 141.4V176.2M298.5 157.2V189.4M299.5 185.4V202.2M300.5 186.2V198.4M301.5 188.7V204.9M302.5 191.8V207.2M303.5 194.2V210.6M304.5 198.6V213.2M305.5 201.2V211.2M306.5 197.1V211.2M307.5 189.9V205.5M308.5 189.2V204.3M309.5 194.8V227.4M310.5 207.2V239.7M311.5 228.2V242.1M312.5 225.7V243.5M313.5 216.9V237.5M314.5 210.4V229.1M315.5 204.5V229.5M316.5 212.3V224.2M317.5 215.0V233.2M318.5 217.3V230.2M319.5 218.9V231.9M320.5 212.7V226.1M321.5 205.3V225.3M322.5 195.3V211.7M323.5 185.0V206.2M324.5 185.8V204.1M325.5 197.0V214.6M326.5 199.2V220.7M327.5 204.8V230.3M328.5 219.2V229.6M329.5 219.9V231.9M330.5 229.1V249.3M331.5 230.1V255.1M332.5 246.5V258.4M333.5 243.8V274.2M334.5 266.1V287.1M335.5 264.5V285.7M336.5 269.3V285.1M337.5 260.2V275.5M338.5 255.1V267.6M339.5 248.4V260.4M340.5 234.1V256.0M341.5 225.1V248.4M342.5 216.3V231.7M343.5 208.7V223.8M344.5 204.6V217.8M345.5 204.6V229.8M346.5 220.8V237.6M347.5 231.1V258.4M348.5 236.3V265.6M349.5 252.4V271.6M350.5 262.7V283.6M351.5 274.6V290.8M352.5 263.4V289.3M353.5 252.8V281.6M354.5 235.6V266.2M355.5 228.9V252.8M356.5 223.8V241.1M357.5 222.3V232.5M358.5 227.0V265.7M359.5 247.2V267.6M360.5 238.1V270.3M361.5 226.1V251.4M362.5 226.1V247.6M363.5 227.9V236.7M364.5 232.8V250.0M365.5 237.2V255.4M366.5 238.1V247.8M367.5 220.2V247.4M368.5 216.4V232.5M369.5 209.6V226.7M370.5 212.6V229.6M371.5 222.8V232.7M372.5 191.0V227.9M373.5 168.3V191.0M374.5 175.3V190.6M375.5 178.4V197.6M376.5 189.6V208.4M377.5 189.5V203.1M378.5 177.3V197.3M379.5 177.3V187.5M380.5 181.9V201.1M381.5 187.8V200.4M382.5 176.3V190.3M383.5 176.3V188.6M384.5 180.7V200.2M385.5 191.4V206.0M386.5 192.5V204.3M387.5 173.4V195.2M388.5 162.4V182.5M389.5 153.3V167.5M390.5 153.4V161.7M391.5 155.1V167.1M392.5 154.1V171.5M393.5 159.9V182.8M394.5 173.0V184.8M395.5 172.8V188.1M396.5 179.6V191.0M397.5 181.6V198.8M398.5 183.2V196.6M399.5 192.0V208.7M400.5 198.4V216.7M401.5 201.5V219.4M402.5 210.6V220.2M403.5 217.4V232.2M404.5 224.9V238.9M405.5 227.5V241.7M406.5 219.3V236.2M407.5 214.8V224.5M408.5 206.1V227.5M409.5 200.6V215.0M410.5 198.3V213.3M411.5 199.8V213.4M412.5 203.4V212.2M413.5 203.0V209.7M414.5 201.9V212.6M415.5 198.6V208.3M416.5 193.0V203.4M417.5 188.6V200.4M418.5 181.9V196.4M419.5 176.3V193.0M420.5 164.8V183.6M421.5 144.3V171.7M422.5 143.4V154.3M423.5 151.1V169.2M424.5 155.7V174.3M425.5 165.2V175.3M426.5 158.4V179.0M427.5 147.7V169.4M428.5 152.8V163.6M429.5 153.0V172.9M430.5 165.6V172.0M431.5 165.0V175.8M432.5 166.6V179.8M433.5 173.4V191.8M434.5 189.0V198.6M435.5 192.7V201.1M436.5 181.3V196.3M437.5 182.9V196.6M438.5 188.9V206.2M439.5 196.5V212.6M440.5 203.6V216.6M441.5 211.7V224.7M442.5 219.7V229.8M443.5 226.1V241.1M444.5 235.1V244.8M445.5 220.6V240.9M446.5 213.3V233.5M447.5 207.4V219.7M448.5 200.2V207.6M449.5 200.9V205.1M450.5 199.8V206.8M451.5 204.5V211.1M452.5 206.3V219.3M453.5 210.4V224.2M454.5 224.9V233.8M455.5 226.9V240.3M456.5 231.3V241.7M457.5 236.3V244.0M458.5 238.9V249.2M459.5 234.1V242.2M460.5 223.2V239.1M461.5 210.4V228.0M462.5 203.3V219.6M463.5 202.3V214.7M464.5 204.5V227.4M465.5 221.3V233.5M466.5 232.0V241.3M467.5 224.5V237.2M468.5 221.0V233.0M469.5 216.0V224.1M470.5 221.6V229.9M471.5 225.5V235.0M472.5 230.5V238.6M473.5 231.1V244.8M474.5 240.3V248.0M475.5 241.1V251.0M476.5 244.6V251.0M477.5 241.9V251.0M478.5 237.1V245.8M479.5 235.2V243.3M480.5 229.5V239.7M481.5 225.6V231.0M482.5 221.8V232.5M483.5 221.7V232.1M484.5 229.1V240.4M485.5 230.5V244.0M486.5 238.6V245.4M487.5 233.7V241.1M488.5 224.2V235.9M489.5 220.7V229.5M490.5 218.7V225.5M491.5 224.2V233.5M492.5 223.6V237.5M493.5 232.9V239.4M494.5 228.9V237.4M495.5 221.9V230.8M496.5 213.8V230.0M497.5 210.0V224.1M498.5 197.6V212.0M499.5 190.6V203.8M500.5 186.0V198.5M501.5 189.8V205.3M502.5 202.0V218.0M503.5 211.1V222.3M504.5 218.5V227.2M505.5 227.0V238.5M506.5 230.2V241.0M507.5 230.9V242.1M508.5 231.9V244.6M509.5 227.8V237.9M510.5 226.4V233.2M511.5 231.0V236.9M512.5 237.7V246.1M513.5 240.2V245.0M514.5 239.5V245.8M515.5 234.5V241.4M516.5 235.6V243.3M517.5 241.7V250.6M518.5 239.3V248.6M519.5 238.0V248.9M520.5 230.1V241.0M521.5 224.0V238.1M522.5 221.5V230.5M523.5 218.8V229.4M524.5 225.0V232.2M525.5 227.0V238.0M526.5 232.4V243.9M527.5 230.0V242.8M528.5 227.8V235.4M529.5 213.1V229.1M530.5 205.3V219.7M531.5 196.7V209.3M532.5 192.8V198.8M533.5 194.4V215.3M534.5 203.8V224.8M535.5 216.1V230.5M536.5 224.2V233.4M537.5 227.7V234.6M538.5 217.7V229.7M539.5 212.1V225.1M540.5 204.1V213.1M541.5 181.0V202.9M542.5 168.2V193.5M543.5 163.3V182.2M544.5 158.4V172.3M545.5 171.0V178.3M546.5 173.7V180.5M547.5 173.1V180.6M548.5 178.5V195.3M549.5 186.4V204.6M550.5 198.9V209.0M551.5 209.0V219.1M552.5 212.9V223.0M553.5 198.3V221.8M554.5 193.7V207.3M555.5 186.1V200.4M556.5 187.9V196.4M557.5 188.5V199.5M558.5 179.9V191.6M559.5 181.6V189.3M560.5 188.5V196.2M561.5 188.2V196.5M562.5 185.3V199.0M563.5 192.9V214.3M564.5 208.4V215.3M565.5 209.2V219.9M566.5 209.5V216.9M567.5 205.5V218.5M568.5 211.7V226.3M569.5 219.2V231.5M570.5 224.5V233.2M571.5 224.4V233.8M572.5 209.6V226.2M573.5 209.0V220.5M574.5 206.3V222.3M575.5 215.5V225.1M576.5 224.6V240.6M577.5 218.4V232.1M578.5 209.1V229.8M579.5 200.2V212.2M580.5 198.6V205.5M581.5 198.2V207.4M582.5 196.8V209.0M583.5 193.4V202.4M584.5 192.7V199.8M585.5 195.0V199.3M586.5 193.0V204.2M587.5 193.0V208.1M588.5 201.5V215.7M589.5 197.7V210.7M590.5 192.8V202.2M591.5 184.5V196.6M592.5 179.9V191.1M593.5 177.4V184.1M594.5 175.5V179.3M595.5 175.4V191.1M596.5 186.2V199.5M597.5 191.0V205.1M598.5 200.7V209.9M599.5 203.7V214.9M600.5 211.8V216.8M601.5 206.1V213.7M602.5 211.3V223.9M603.5 219.5V225.0M604.5 214.9V220.4M605.5 213.6V221.3M606.5 214.8V223.3M607.5 218.9V222.4M608.5 216.9V226.3M609.5 218.8V229.4M610.5 222.0V229.8M611.5 218.3V228.2M612.5 217.5V228.2M613.5 226.5V236.5M614.5 225.2V236.6M615.5 210.0V226.7M616.5 204.5V214.5M617.5 198.4V208.8M618.5 203.2V218.0M619.5 213.0V218.6M620.5 206.6V214.5M621.5 205.3V216.6M622.5 207.3V215.4M623.5 185.1V200.4M624.5 182.3V199.8M625.5 179.8V189.6M626.5 174.0V183.2M627.5 174.0V186.1M628.5 180.2V199.1M629.5 188.8V207.9M630.5 201.3V215.4M631.5 210.4V221.2M632.5 217.4V225.2M633.5 210.6V218.7M634.5 201.7V216.8M635.5 194.9V207.5M636.5 188.0V203.2M637.5 185.2V193.5M638.5 196.2V209.0M639.5 203.8V212.6M640.5 200.1V211.7M641.5 185.3V207.5M642.5 207.7V216.5M643.5 224.8V247.4M644.5 225.8V243.4M645.5 217.1V237.3M646.5 207.7V219.2M647.5 208.6V211.9M648.5 207.0V215.9M649.5 205.5V212.8M650.5 203.9V211.0M651.5 202.9V208.6M652.5 205.8V213.3M653.5 202.7V213.9M654.5 197.9V207.4M655.5 197.3V208.0M656.5 189.9V208.0M657.5 163.9V195.5M658.5 157.5V188.0M659.5 161.6V170.3M660.5 159.8V182.6M661.5 149.1V172.5M662.5 129.8V173.8M663.5 115.2V152.3M664.5 120.1V140.3M665.5 87.0V122.8M666.5 82.3V121.4M667.5 76.8V101.8M668.5 71.3V89.2M669.5 68.0V84.3M670.5 55.0V84.3M671.5 45.5V75.3M672.5 47.8V69.6M673.5 35.8V61.9M674.5 32.1V54.6M675.5 35.2V43.8M676.5 31.7V52.9M677.5 34.0V60.5M678.5 43.1V64.1M679.5 45.4V108.2M680.5 88.6V105.3M681.5 59.2V99.9M682.5 70.9V93.3M683.5 72.7V96.9M684.5 72.3V92.9M685.5 73.7V91.1M686.5 71.0V94.6M687.5 70.2V85.6M688.5 55.9V83.9M689.5 53.7V80.0M690.5 42.6V73.5M691.5 40.2V67.9M692.5 49.7V71.2M693.5 52.6V71.4M694.5 52.6V71.4M695.5 53.7V69.6M72.5 300V428M73.5 305V392M74.5 300V368M75.5 298V350M76.5 295V338M77.5 290V327M78.5 288V318M82.5 290V331M73 330V380M74 320V355" stroke="#0000ff" stroke-width="0.8" fill="none"/>
<!-- pointers -->
<g fill="#b8cdf8" fill-opacity="0.7" stroke="#2a2a2a" stroke-width="1.05" stroke-linejoin="round">
<polygon points="184.8,328.6 68.2,198.1 189.2,324.2"/>
<polygon points="343.9,324.6 204.1,105.9 348.9,324.6"/>
<polygon points="346.1,324.6 427.7,154.8 351,324.6"/>
<polygon points="505.8,324.3 685.2,64.2 510.6,329.2"/>
<polygon points="653.8,281.4 695.4,79.8 658.8,281.4"/>
</g>
</svg>
<!-- header -->
<div class="t" style="left:18px;top:3.6px;font-size:8.85px;white-space:pre;color:#000;-webkit-text-stroke:0.12px #000;">PL.F  D1  O:1405.40  H:1408.80  L:1363.05  C:1363.05  (-2.81%)</div>
<!-- watermark -->
<div class="box" style="left:41.5px;top:29px;width:193.5px;height:23.7px;background:#c6d6fa;"></div>
<div class="t" style="left:44.7px;top:34.4px;font-size:17.3px;transform:scaleX(1.0373);-webkit-text-stroke:0.1px #000;transform-origin:0 0;">GoldPriceForecast.com</div>
<!-- big box -->
<div class="box" style="left:184.8px;top:324.2px;width:326px;height:75px;background:#8eabf4;"></div>
<div class="t" style="left:187.7px;top:331.1px;font-size:21.2px;line-height:22.55px;white-space:pre;transform:scaleX(1.0843);-webkit-text-stroke:0.1px #000;transform-origin:0 0;">Platinum corrected just a little
more than 61.8% of the decline
before plunging.</div>
<!-- small box -->
<div class="box" style="left:547.8px;top:280.8px;width:216.8px;height:59.5px;background:#c8d8fb;"></div>
<div class="t" style="left:550.4px;top:287px;font-size:16.1px;line-height:17.85px;white-space:pre;transform:scaleX(1.1165);-webkit-text-stroke:0.1px #000;transform-origin:0 0;">Platinum shows weakness
right before Fed's interest
rate decision.</div>
<div style="position:absolute;left:654.2px;top:280.3px;width:4.1px;height:1.8px;background:#cddcfa;"></div>
<div style="position:absolute;left:345.4px;top:323.8px;width:4.4px;height:1.6px;background:#b4c8f8;"></div>
<!-- fib labels -->
<div class="t ax" style="left:783.9px;top:3.5px;">138.2%</div>
<div class="t ax" style="left:783.9px;top:28.6px;">100%</div>
<div class="t ax" style="left:783.9px;top:54.6px;">61.8%</div>
<div class="t ax" style="left:783.9px;top:62.4px;">50%</div>
<div class="t ax" style="left:783.9px;top:70.4px;">38.2%</div>
<div class="t ax" style="left:783.9px;top:95.6px;">0%</div>
<div class="t ax" style="left:783.9px;top:121.6px;">-38.2%</div>
<div class="t ax" style="left:783.9px;top:136.5px;">-61.8%</div>
<!-- price axis -->
<div class="t ax" style="left:824.7px;top:32.6px;">1500.00</div>
<div class="t ax" style="left:824.7px;top:105.9px;">1250.00</div>
<div class="t ax" style="left:824.7px;top:196.2px;">1000.00</div>
<div class="t ax" style="left:824.7px;top:311.4px;">750.00</div>
<div style="position:absolute;left:821.1px;top:68.9px;width:35.6px;height:12.2px;background:#000;"></div>
<div class="t ax" style="left:823.3px;top:71.2px;color:#fff;">1363.05</div>
<!-- time axis -->
<div class="t ax" style="left:39.0px;top:472.5px;font-size:9px;">2020</div>
<div class="t ax" style="left:89.5px;top:472.5px;font-size:9px;">jun</div>
<div class="t ax" style="left:152.2px;top:472.5px;font-size:9px;">2021</div>
<div class="t ax" style="left:202.7px;top:472.5px;font-size:9px;">jun</div>
<div class="t ax" style="left:266.5px;top:472.5px;font-size:9px;">2022</div>
<div class="t ax" style="left:316.5px;top:472.5px;font-size:9px;">jun</div>
<div class="t ax" style="left:378.5px;top:472.5px;font-size:9px;">2023</div>
<div class="t ax" style="left:429.0px;top:472.5px;font-size:9px;">jun</div>
<div class="t ax" style="left:490.5px;top:472.5px;font-size:9px;">2024</div>
<div class="t ax" style="left:542.0px;top:472.5px;font-size:9px;">jun</div>
<div class="t ax" style="left:603.5px;top:472.5px;font-size:9px;">2025</div>
<div class="t ax" style="left:654.3px;top:472.5px;font-size:9px;">jun</div>
<div class="t ax" style="left:732.2px;top:472.5px;font-size:9px;">2026</div>
<div class="t ax" style="left:804.4px;top:472.5px;font-size:9px;">jun</div>
</body></html>
